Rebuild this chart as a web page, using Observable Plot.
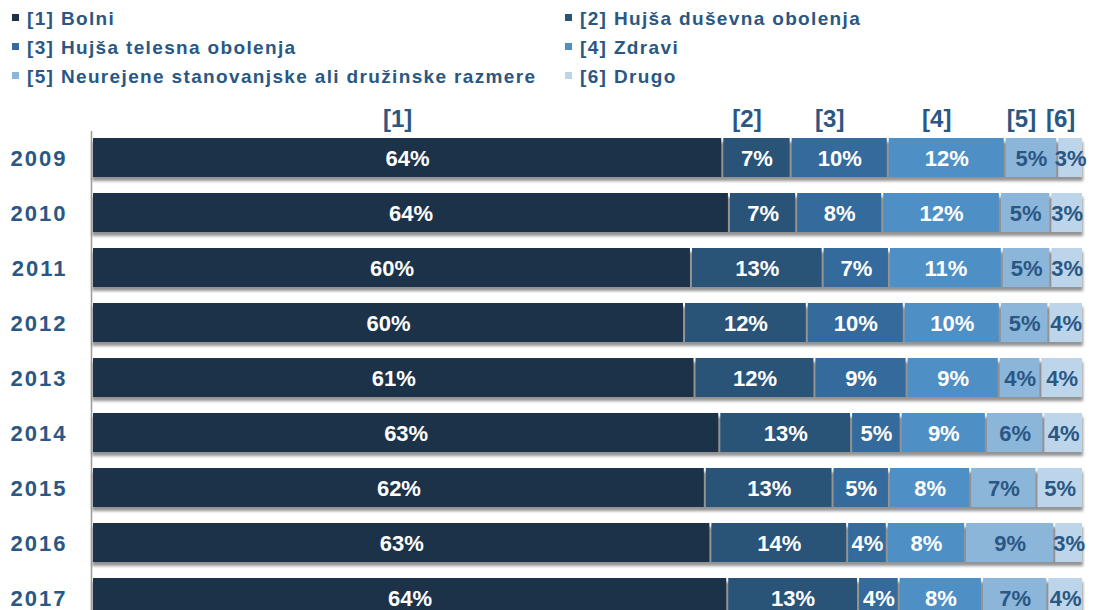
<!DOCTYPE html>
<html><head><meta charset="utf-8">
<script src="https://cdn.jsdelivr.net/npm/d3@7"></script>
<script src="https://cdn.jsdelivr.net/npm/@observablehq/plot@0.6"></script>
<style>
html,body{margin:0;padding:0;background:#fff;overflow:hidden;width:1094px;height:610px}
body{font-family:"Liberation Sans",Arial,sans-serif;}
#legend{position:relative;height:100px;}
.item{position:absolute;font-weight:bold;font-size:19px;letter-spacing:1.35px;color:#2a5783;white-space:nowrap;line-height:20px}
.sw{display:inline-block;width:7px;height:7px;margin-right:8px;vertical-align:middle;position:relative;top:-2px}
#chart svg{display:block}
</style></head>
<body><div id="legend"></div><div id="chart"></div>
<script>
const years = ["2009","2010","2011","2012","2013","2014","2015","2016","2017"];
const categories = ["[1] Bolni","[2] Hujša duševna obolenja","[3] Hujša telesna obolenja","[4] Zdravi","[5] Neurejene stanovanjske ali družinske razmere","[6] Drugo"];
const headers = ["[1]","[2]","[3]","[4]","[5]","[6]"];
const colors = ["#1c3249","#2a5378","#346b9c","#4e90c6","#8cb5da","#bdd5eb"];
// segment shares (%)
const bolni    = [63.6,64.4,60.5,59.8,60.8,63.3,61.9,62.4,64.1];
const dusevna  = [6.9,6.8,13.3,12.4,12.1,13.3,12.9,13.8,13.2];
const telesna  = [9.8,8.7,6.7,9.8,9.3,5.0,5.7,4.0,4.1];
const zdravi   = [11.8,11.9,11.4,9.7,9.3,8.6,8.2,7.9,8.4];
const razmere  = [5.3,5.1,4.9,4.9,4.2,5.8,6.7,9.0,6.6];
const drugo    = [2.6,3.3,3.3,3.5,4.3,4.0,4.7,2.9,3.6];
// printed labels (%)
const bolniLbl   = [64,64,60,60,61,63,62,63,64];
const dusevnaLbl = [7,7,13,12,12,13,13,14,13];
const telesnaLbl = [10,8,7,10,9,5,5,4,4];
const zdraviLbl  = [12,12,11,10,9,9,8,8,8];
const razmereLbl = [5,5,5,5,4,6,7,9,7];
const drugoLbl   = [3,3,3,4,4,4,5,3,4];

const series = [bolni,dusevna,telesna,zdravi,razmere,drugo];
const labels = [bolniLbl,dusevnaLbl,telesnaLbl,zdraviLbl,razmereLbl,drugoLbl];
const textBlue = "#2a5783";

const data = [];
years.forEach((y, yi) => categories.forEach((c, ci) => {
  data.push({year: y, cat: c, ci, value: series[ci][yi], label: labels[ci][yi]});
}));

// legend
const leg = document.getElementById("legend");
categories.forEach((c, i) => {
  const d = document.createElement("div");
  d.className = "item";
  d.style.left = (i % 2 === 0 ? 12 : 565) + "px";
  d.style.top = (9 + Math.floor(i / 2) * 29) + "px";
  const s = document.createElement("span");
  s.className = "sw"; s.style.background = colors[i];
  d.appendChild(s);
  d.appendChild(document.createTextNode(c));
  leg.appendChild(d);
});

const stackOpts = {x: "value", y: "year", z: "cat", offset: "normalize"};

const chart = Plot.plot({
  width: 1094,
  height: 530,
  marginLeft: 92,
  marginRight: 11,
  marginTop: 31,
  marginBottom: 0,
  x: {domain: [0, 1], range: [92, 1083], axis: null},
  y: {domain: years, range: [30.5, 525.5], paddingInner: 0.29, paddingOuter: 0.145, axis: null},
  color: {domain: categories, range: colors},
  style: {fontFamily: "'Liberation Sans', Arial, sans-serif"},
  marks: [
    Plot.barX(years, {x1: 0, x2: 1, y: d => d, fill: "#6f6f6f", dy: 4}),
    Plot.ruleX([0], {dx: -1, stroke: "#9a9a9a", strokeWidth: 1.5}),
    Plot.barX(data, Plot.stackX({...stackOpts, fill: "cat", insetLeft: 1, insetRight: 1})),
    Plot.text(data, Plot.filter(d => d.ci < 4, Plot.stackX({...stackOpts, text: d => d.label + "%", fill: "white", fontSize: 22, fontWeight: "bold", dy: 1}))),
    Plot.text(data, Plot.filter(d => d.ci >= 4, Plot.stackX({...stackOpts, text: d => d.label + "%", fill: textBlue, fontSize: 22, fontWeight: "bold", dy: 1}))),
    Plot.text(data.filter(d => d.year === years[0]), Plot.stackX({...stackOpts, text: d => headers[d.ci], fill: textBlue, fontSize: 24, fontWeight: "bold", dy: -39, dx: -10})),
    Plot.text(years, {y: d => d, text: d => d, frameAnchor: "left", textAnchor: "end", dx: -25, fill: textBlue, fontSize: 22, fontWeight: "bold", dy: 1})
  ]
});
document.getElementById("chart").appendChild(chart);

// soft shadow under bars
const svg = d3.select(chart);
const defs = svg.insert("defs", ":first-child");
defs.append("filter").attr("id", "shadowBlur").attr("x", "-5%").attr("y", "-50%").attr("width", "110%").attr("height", "200%")
  .append("feGaussianBlur").attr("stdDeviation", 1.6);
svg.select('g[aria-label="bar"]').attr("filter", "url(#shadowBlur)").attr("opacity", 0.75);
// wider letter spacing for the year labels
const textGroups = svg.selectAll('g[aria-label="text"]').nodes();
d3.select(textGroups[textGroups.length - 1]).attr("letter-spacing", "2px");
</script>
</body></html>
